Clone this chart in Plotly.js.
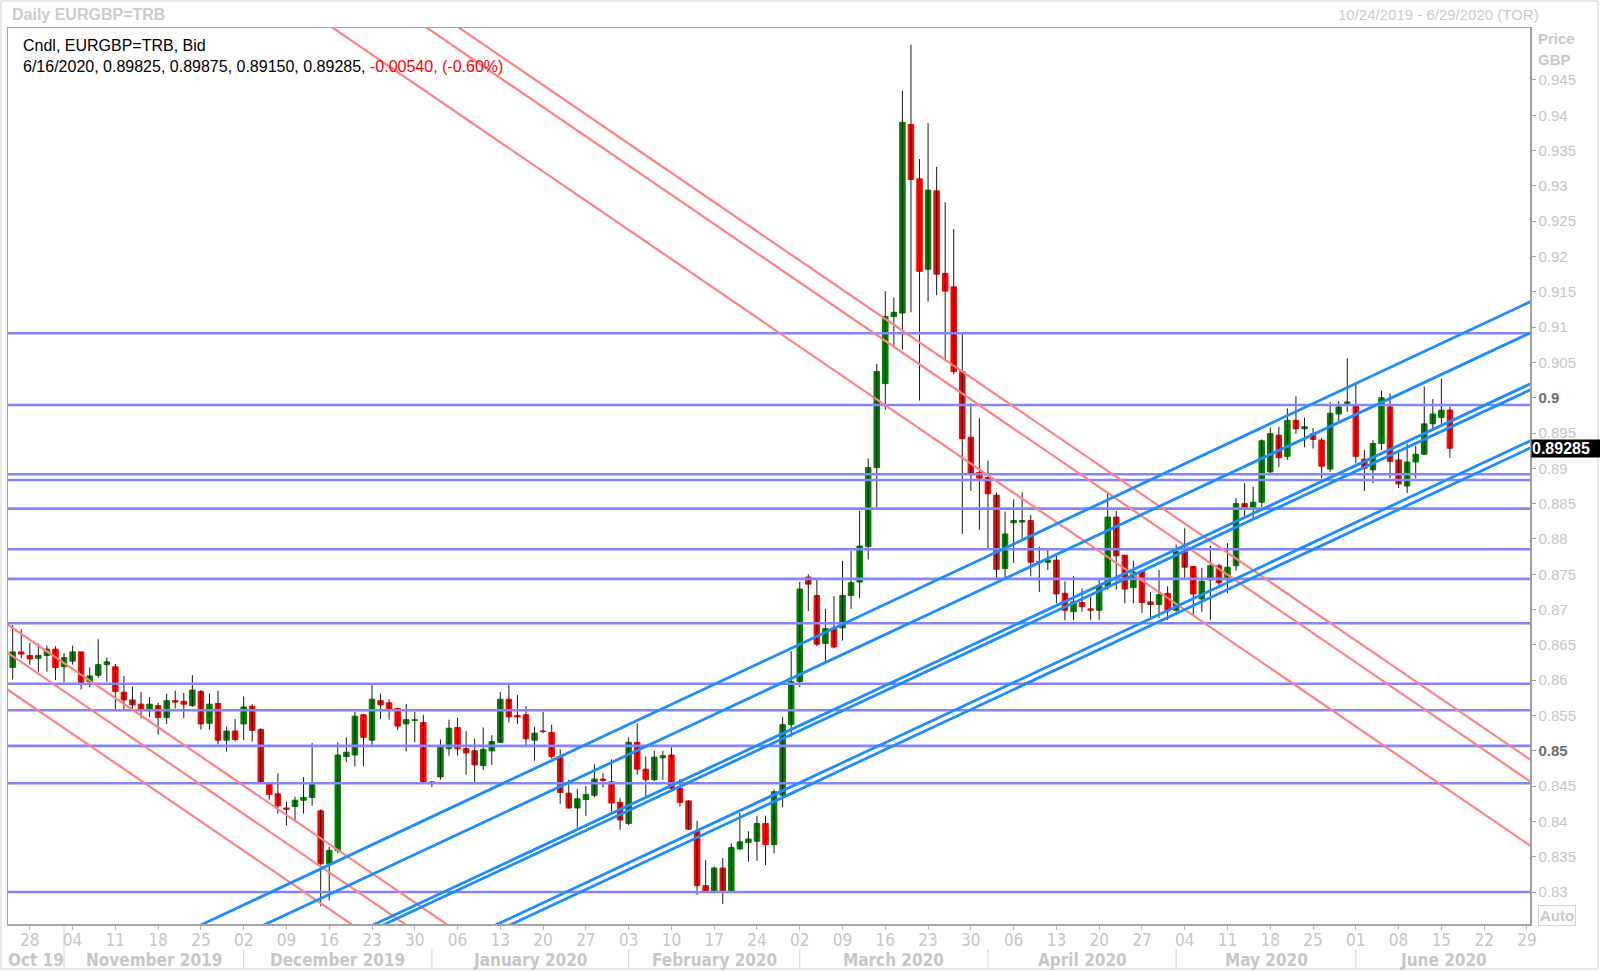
<!DOCTYPE html>
<html><head><meta charset="utf-8">
<script src="https://cdn.plot.ly/plotly-3.0.1.min.js"></script>
<style>html,body{margin:0;padding:0;background:#fff;}#chart{width:1600px;height:972px;}</style>
</head><body><div id="chart"></div>
<script>
// ---- DATA (EURGBP=TRB daily) ----
const dates = [
'2019-10-24','2019-10-25',
'2019-10-28','2019-10-29','2019-10-30','2019-10-31','2019-11-01',
'2019-11-04','2019-11-05','2019-11-06','2019-11-07','2019-11-08',
'2019-11-11','2019-11-12','2019-11-13','2019-11-14','2019-11-15',
'2019-11-18','2019-11-19','2019-11-20','2019-11-21','2019-11-22',
'2019-11-25','2019-11-26','2019-11-27','2019-11-28','2019-11-29',
'2019-12-02','2019-12-03','2019-12-04','2019-12-05','2019-12-06',
'2019-12-09','2019-12-10','2019-12-11','2019-12-12','2019-12-13',
'2019-12-16','2019-12-17','2019-12-18','2019-12-19','2019-12-20',
'2019-12-23','2019-12-24','2019-12-25','2019-12-26','2019-12-27',
'2019-12-30','2019-12-31','2020-01-01','2020-01-02','2020-01-03',
'2020-01-06','2020-01-07','2020-01-08','2020-01-09','2020-01-10',
'2020-01-13','2020-01-14','2020-01-15','2020-01-16','2020-01-17',
'2020-01-20','2020-01-21','2020-01-22','2020-01-23','2020-01-24',
'2020-01-27','2020-01-28','2020-01-29','2020-01-30','2020-01-31',
'2020-02-03','2020-02-04','2020-02-05','2020-02-06','2020-02-07',
'2020-02-10','2020-02-11','2020-02-12','2020-02-13','2020-02-14',
'2020-02-17','2020-02-18','2020-02-19','2020-02-20','2020-02-21',
'2020-02-24','2020-02-25','2020-02-26','2020-02-27','2020-02-28',
'2020-03-02','2020-03-03','2020-03-04','2020-03-05','2020-03-06',
'2020-03-09','2020-03-10','2020-03-11','2020-03-12','2020-03-13',
'2020-03-16','2020-03-17','2020-03-18','2020-03-19','2020-03-20',
'2020-03-23','2020-03-24','2020-03-25','2020-03-26','2020-03-27',
'2020-03-30','2020-03-31','2020-04-01','2020-04-02','2020-04-03',
'2020-04-06','2020-04-07','2020-04-08','2020-04-09','2020-04-10',
'2020-04-13','2020-04-14','2020-04-15','2020-04-16','2020-04-17',
'2020-04-20','2020-04-21','2020-04-22','2020-04-23','2020-04-24',
'2020-04-27','2020-04-28','2020-04-29','2020-04-30','2020-05-01',
'2020-05-04','2020-05-05','2020-05-06','2020-05-07','2020-05-08',
'2020-05-11','2020-05-12','2020-05-13','2020-05-14','2020-05-15',
'2020-05-18','2020-05-19','2020-05-20','2020-05-21','2020-05-22',
'2020-05-25','2020-05-26','2020-05-27','2020-05-28','2020-05-29',
'2020-06-01','2020-06-02','2020-06-03','2020-06-04','2020-06-05',
'2020-06-08','2020-06-09','2020-06-10','2020-06-11','2020-06-12',
'2020-06-15','2020-06-16'];

const open = [
0.8618,0.8640,
0.8635,0.8631,0.8635,0.8644,0.8619,
0.8627,0.8640,0.8598,0.8607,0.8622,
0.8619,0.8583,0.8572,0.8566,0.8559,
0.8564,0.8547,0.8571,0.8570,0.8564,
0.8584,0.8539,0.8567,0.8515,0.8528,
0.8538,0.8563,0.8530,0.8453,0.8439,
0.8419,0.8421,0.8430,0.8434,0.8415,
0.8340,0.8359,0.8492,0.8494,0.8551,
0.8515,0.8571,0.8568,0.8560,0.8538,
0.8543,0.8540,0.8454,0.8463,0.8503,
0.8533,0.8503,0.8500,0.8479,0.8500,
0.8512,0.8573,0.8550,0.8551,0.8515,
0.8528,0.8526,0.8491,0.8440,0.8419,
0.8431,0.8437,0.8460,0.8456,0.8427,
0.8397,0.8512,0.8474,0.8459,0.8490,
0.8494,0.8447,0.8429,0.8386,0.8309,
0.8301,0.8334,0.8301,0.8361,0.8370,
0.8372,0.8397,0.8367,0.8437,0.8537,
0.8598,0.8746,0.8720,0.8652,0.8674,
0.8674,0.8720,0.8739,0.8789,0.8901,
0.9020,0.9115,0.9120,0.9387,0.9310,
0.9182,0.9293,0.9176,0.9157,0.9037,
0.8944,0.8894,0.8887,0.8862,0.8758,
0.8823,0.8824,0.8826,0.8768,0.8767,
0.8770,0.8723,0.8697,0.8710,0.8701,
0.8699,0.8733,0.8831,0.8777,0.8731,
0.8754,0.8711,0.8707,0.8723,0.8699,
0.8782,0.8761,0.8715,0.8742,0.8762,
0.8742,0.8762,0.8850,0.8845,0.8852,
0.8895,0.8947,0.8917,0.8968,0.8956,
0.8949,0.8940,0.8899,0.8977,0.8992,
0.8988,0.8913,0.8898,0.8935,0.8987,
0.8912,0.8875,0.8909,0.8920,0.8963,
0.8972,0.89825];

const high = [
0.8678,0.8672,
0.8653,0.8652,0.8649,0.8648,0.8638,
0.8649,0.8640,0.8618,0.8658,0.8632,
0.8623,0.8606,0.8591,0.8583,0.8576,
0.8568,0.8581,0.8585,0.8582,0.8607,
0.8586,0.8581,0.8585,0.8534,0.8545,
0.8577,0.8566,0.8532,0.8456,0.8468,
0.8428,0.8435,0.8463,0.8511,0.8417,
0.8364,0.8512,0.8519,0.8555,0.8552,
0.8593,0.8581,0.8573,0.8561,0.8566,
0.8555,0.8551,0.8457,0.8516,0.8544,
0.8547,0.8528,0.8517,0.8533,0.8522,
0.8583,0.8593,0.8579,0.8563,0.8534,
0.8555,0.8537,0.8502,0.8459,0.8446,
0.8450,0.8481,0.8468,0.8488,0.8433,
0.8519,0.8539,0.8492,0.8500,0.8500,
0.8505,0.8460,0.8430,0.8401,0.8345,
0.8336,0.8348,0.8369,0.8412,0.8386,
0.8408,0.8408,0.8445,0.8548,0.8641,
0.8739,0.8750,0.8744,0.8701,0.8719,
0.8769,0.8783,0.8840,0.8914,0.9048,
0.9151,0.9142,0.9435,0.9500,0.9338,
0.9389,0.9327,0.9277,0.9239,0.9093,
0.8992,0.8971,0.8911,0.8866,0.8839,
0.8856,0.8866,0.8834,0.8789,0.8784,
0.8777,0.8740,0.8747,0.8730,0.8718,
0.8742,0.8865,0.8840,0.8777,0.8769,
0.8754,0.8725,0.8756,0.8733,0.8792,
0.8815,0.8761,0.8759,0.8790,0.8765,
0.8794,0.8858,0.8879,0.8874,0.8941,
0.8958,0.8959,0.8985,0.9002,0.8972,
0.8957,0.8943,0.8994,0.8995,0.9056,
0.9021,0.8926,0.8940,0.9010,0.9006,
0.8926,0.8935,0.8932,0.9016,0.8998,
0.9027,0.89875];

const low = [
0.8601,0.8631,
0.8622,0.8612,0.8612,0.8600,0.8597,
0.8622,0.8587,0.8590,0.8603,0.8598,
0.8559,0.8559,0.8558,0.8546,0.8548,
0.8523,0.8538,0.8560,0.8546,0.8562,
0.8530,0.8530,0.8509,0.8499,0.8513,
0.8515,0.8513,0.8453,0.8431,0.8411,
0.8394,0.8402,0.8411,0.8422,0.8280,
0.8288,0.8355,0.8484,0.8478,0.8478,
0.8508,0.8545,0.8544,0.8529,0.8499,
0.8512,0.8454,0.8449,0.8459,0.8493,
0.8493,0.8466,0.8455,0.8473,0.8480,
0.8511,0.8540,0.8538,0.8508,0.8486,
0.8525,0.8489,0.8425,0.8418,0.8391,
0.8408,0.8434,0.8448,0.8414,0.8388,
0.8395,0.8466,0.8435,0.8457,0.8459,
0.8446,0.8421,0.8388,0.8296,0.8300,
0.8298,0.8283,0.8299,0.8360,0.8343,
0.8344,0.8338,0.8355,0.8420,0.8520,
0.8590,0.8698,0.8648,0.8625,0.8645,
0.8656,0.8701,0.8716,0.8771,0.8845,
0.8983,0.9071,0.9068,0.9121,0.8996,
0.9136,0.9145,0.9054,0.9033,0.8807,
0.8868,0.8813,0.8786,0.8742,0.8744,
0.8766,0.8799,0.8747,0.8725,0.8756,
0.8709,0.8685,0.8685,0.8697,0.8685,
0.8685,0.8728,0.8728,0.8709,0.8709,
0.8695,0.8688,0.8688,0.8685,0.8697,
0.8742,0.8692,0.8697,0.8685,0.8730,
0.8723,0.8755,0.8830,0.8830,0.8845,
0.8890,0.8902,0.8912,0.8949,0.8930,
0.8928,0.8886,0.8895,0.8966,0.8980,
0.8907,0.8868,0.8879,0.8926,0.8886,
0.8872,0.8865,0.8886,0.8919,0.8954,
0.8963,0.89150];

const close = [
0.8640,0.8637,
0.8630,0.8635,0.8644,0.8618,0.8632,
0.8640,0.8597,0.8606,0.8622,0.8626,
0.8584,0.8572,0.8565,0.8559,0.8566,
0.8547,0.8571,0.8569,0.8566,0.8586,
0.8538,0.8566,0.8515,0.8528,0.8516,
0.8562,0.8529,0.8454,0.8438,0.8422,
0.8417,0.8430,0.8434,0.8452,0.8340,
0.8359,0.8494,0.8498,0.8549,0.8519,
0.8573,0.8565,0.8560,0.8535,0.8544,
0.8544,0.8455,0.8456,0.8506,0.8532,
0.8503,0.8497,0.8480,0.8502,0.8513,
0.8573,0.8548,0.8548,0.8517,0.8525,
0.8527,0.8492,0.8441,0.8419,0.8432,
0.8438,0.8460,0.8458,0.8426,0.8402,
0.8512,0.8474,0.8459,0.8491,0.8493,
0.8447,0.8427,0.8389,0.8309,0.8301,
0.8334,0.8301,0.8363,0.8371,0.8375,
0.8397,0.8367,0.8442,0.8537,0.8598,
0.8729,0.8736,0.8651,0.8673,0.8647,
0.8720,0.8738,0.8790,0.8901,0.9037,
0.9115,0.9121,0.9390,0.9309,0.9179,
0.9294,0.9175,0.9151,0.9037,0.8942,
0.8893,0.8886,0.8864,0.8757,0.8807,
0.8826,0.8826,0.8767,0.8768,0.8770,
0.8722,0.8699,0.8711,0.8704,0.8699,
0.8733,0.8831,0.8776,0.8729,0.8753,
0.8710,0.8707,0.8721,0.8699,0.8782,
0.8760,0.8722,0.8740,0.8762,0.8738,
0.8760,0.8850,0.8845,0.8852,0.8939,
0.8949,0.8915,0.8968,0.8956,0.8959,
0.8941,0.8903,0.8978,0.8987,0.8994,
0.8917,0.8900,0.8935,0.9000,0.8910,
0.8878,0.8909,0.8920,0.8963,0.8977,
0.89825,0.89285];

// horizontal support / resistance levels
const hLevels = [0.90913,0.89897,0.88916,0.88835,0.88430,0.87855,0.87434,0.86807,0.85950,0.85575,0.85070,0.84540,0.83000];

// rising (blue) trend lines: start date/price, end date/price
const blueD0 = ['2019-11-25 12:00','2019-12-04 12:00','2019-12-23 12:00','2019-12-24 12:00','2020-01-10 12:00','2020-01-14 12:00'];
const blueP0 = [0.82533,0.82512,0.82526,0.82516,0.82507,0.82526];
const blueD1 = ['2020-07-01 12:00','2020-07-01 12:00','2020-07-01 12:00','2020-07-01 12:00','2020-07-01 12:00','2020-07-01 12:00'];
const blueP1 = [0.91450,0.91009,0.90287,0.90202,0.89481,0.89380];

// falling (red) trend lines
const redD0 = ['2019-10-23 12:00','2019-10-23 12:00','2019-10-23 12:00','2019-12-05 12:00','2019-12-05 12:00','2019-12-05 12:00'];
const redP0 = [0.86821,0.86422,0.85901,0.95852,0.96763,0.97076];
const redD1 = ['2020-01-16 12:00','2020-01-16 12:00','2020-01-16 12:00','2020-07-01 12:00','2020-07-01 12:00','2020-07-01 12:00'];
const redP1 = [0.81777,0.81376,0.80856,0.83523,0.84432,0.84741];

// axis labels
const yTickVals = [0.83,0.835,0.84,0.845,0.85,0.855,0.86,0.865,0.87,0.875,0.88,0.885,0.89,0.895,0.9,0.905,0.91,0.915,0.92,0.925,0.93,0.935,0.94,0.945];
const yTickText = ['0.83','0.835','0.84','0.845','0.85','0.855','0.86','0.865','0.87','0.875','0.88','0.885','0.89','0.895','0.9','0.905','0.91','0.915','0.92','0.925','0.93','0.935','0.94','0.945'];
const yBold = ['0.9','0.85'];
const monthNames = ['Oct 19','November 2019','December 2019','January 2020','February 2020','March 2020','April 2020','May 2020','June 2020'];
const monthLabelX = ['2019-10-29 05:30','2019-11-18 00:00','2019-12-17 12:00','2020-01-17 00:00','2020-02-17 12:00','2020-03-17 12:00','2020-04-16 12:00','2020-05-18 00:00','2020-06-15 16:48'];
const monthSeps = ['2019-11-01','2019-12-02','2020-01-01','2020-02-03','2020-03-02','2020-04-01','2020-05-01','2020-06-01'];

// ---- BUILD ----
const L=8, R=1530, T=28, B=924;
const px = x => (x-L)/(R-L);
const py = y => (B-y)/(B-T);
const mid = d => d + ' 12:00';

const xs = dates.map(mid);
const wx=[], wy=[];
for (let i=0;i<dates.length;i++){ wx.push(xs[i],xs[i],null); wy.push(low[i],high[i],null); }
const base = open.map((o,i)=>Math.min(o,close[i]));
const bodyH = open.map((o,i)=>Math.abs(close[i]-o));
const cols = open.map((o,i)=> close[i]>=o ? '#008000' : '#ff0000');

const traces = [
 {type:'scatter', mode:'lines', x:wx, y:wy, line:{color:'#1a1a1a', width:1}, hoverinfo:'skip', connectgaps:false},
 {type:'bar', x:xs, y:bodyH, base:base, width:0.64*86400000,
  marker:{color:cols, line:{color:cols, width:1}}, hoverinfo:'skip'}
];

const shapes = [];
hLevels.forEach(p=>shapes.push({type:'line', xref:'x', yref:'y', x0:'2019-10-23 12:00', x1:'2020-07-01 12:00', y0:p, y1:p, line:{color:'#8484ff', width:2.6}}));
redD0.forEach((d,i)=>shapes.push({type:'line', xref:'x', yref:'y', x0:d, y0:redP0[i], x1:redD1[i], y1:redP1[i], line:{color:'#ff8282', width:2.2}}));
blueD0.forEach((d,i)=>shapes.push({type:'line', xref:'x', yref:'y', x0:d, y0:blueP0[i], x1:blueD1[i], y1:blueP1[i], line:{color:'#1e8cff', width:2.8}}));
monthSeps.forEach((d,i)=>shapes.push({type:'line', xref:'x', yref:'paper', x0:mid(d), x1:mid(d), y0:py(i===0?926:949), y1:py(969), line:{color:'#d4d4d4', width:1}}));
// outer frame of the chart window
shapes.push({type:'rect', xref:'paper', yref:'paper', x0:px(1), x1:px(1598), y0:py(969), y1:py(1), line:{color:'#d0d0d0', width:1}, fillcolor:'rgba(0,0,0,0)', layer:'below'});

const grey='#c6c6c6';
const FN='Liberation Sans Narrow, DejaVu Sans Condensed, Arial Narrow, sans-serif';
const FS='Liberation Sans, Arial, sans-serif';
const n = close.length-1;
const chg = close[n]-close[n-1];
const pct = chg/close[n-1]*100;
const dLast = new Date(dates[n]+'T00:00:00');
const dStr = (dLast.getMonth()+1)+'/'+dLast.getDate()+'/'+dLast.getFullYear();
const f5 = v => v.toFixed(5);

const ann = [
 {xref:'paper',yref:'paper',x:px(10),y:py(15),xanchor:'left',yanchor:'middle',showarrow:false,text:'<b>Daily EURGBP=TRB</b>',font:{family:FS,size:16,color:'#cccccc'}},
 {xref:'paper',yref:'paper',x:px(1541),y:py(15),xanchor:'right',yanchor:'middle',showarrow:false,text:'10/24/2019 - 6/29/2020 (TOR)',font:{family:FS,size:15,color:'#cccccc'}},
 {xref:'paper',yref:'paper',x:px(21),y:py(46),xanchor:'left',yanchor:'middle',showarrow:false,text:'Cndl, EURGBP=TRB, Bid',font:{family:FS,size:16,color:'#000'}},
 {xref:'paper',yref:'paper',x:px(21),y:py(67),xanchor:'left',yanchor:'middle',showarrow:false,
  text: dStr+', '+f5(open[n])+', '+f5(high[n])+', '+f5(low[n])+', '+f5(close[n])+', <span style="color:#ff0000">'+f5(chg)+', ('+pct.toFixed(2)+'%)</span>',
  font:{family:FS,size:16,color:'#000'}},
 {xref:'paper',yref:'paper',x:px(1536),y:py(38),xanchor:'left',yanchor:'middle',showarrow:false,text:'<b>Price</b>',font:{family:FS,size:15,color:'#c8c8c8'}},
 {xref:'paper',yref:'paper',x:px(1536),y:py(59),xanchor:'left',yanchor:'middle',showarrow:false,text:'<b>GBP</b>',font:{family:FS,size:15,color:'#c8c8c8'}},
 {xref:'paper',yref:'y',x:1,y:close[n],xanchor:'left',yanchor:'middle',showarrow:false,text:'<b>'+f5(close[n])+'</b>',
  bgcolor:'#000',font:{family:FS,size:16,color:'#fff'},borderpad:0,width:68,align:'left',xshift:1},
 {xref:'paper',yref:'paper',x:px(1557),y:py(915),xanchor:'center',yanchor:'middle',showarrow:false,text:'<b>Auto</b>',
  font:{family:FS,size:15,color:'#c8c8c8'},bordercolor:'#d4d4d4',borderwidth:1,borderpad:1}
];
monthNames.forEach((m,i)=>ann.push({xref:'x',yref:'paper',x:monthLabelX[i],y:py(960),xanchor:'center',yanchor:'middle',showarrow:false,
  text:'<b>'+m+'</b>',font:{family:FN,size:17,color:grey}}));

const yText = yTickText.map(t => yBold.includes(t) ? '<span style="color:#6e6e6e"><b>'+t+'</b></span>' : t);

const layout = {
 width:1600, height:972,
 margin:{l:L, r:1600-R, t:T, b:972-B, pad:0},
 paper_bgcolor:'#ffffff', plot_bgcolor:'#ffffff',
 showlegend:false, bargap:0, hovermode:false,
 xaxis:{type:'date', range:['2019-10-23 22:50','2020-06-29 20:38'],
   rangebreaks:[{bounds:['sat','mon']}],
   tick0:'2019-10-28 12:00', dtick:7*86400000, tickformat:'%d',
   ticks:'outside', ticklen:4, tickcolor:'#b4b4b4', tickwidth:1, ticklabelstandoff:-4,
   showgrid:false, zeroline:false, showline:true, mirror:true, linecolor:'#a6a6a6', linewidth:1.5,
   tickfont:{family:FN,size:17,color:grey}, automargin:false, fixedrange:true},
 yaxis:{side:'right', range:[0.82547,0.95236], tickmode:'array', tickvals:yTickVals, ticktext:yText,
   ticks:'outside', ticklen:4, tickcolor:'#a0a0a0', tickwidth:1,
   showgrid:false, zeroline:false, showline:true, mirror:true, linecolor:'#a0a0a0', linewidth:1.5,
   tickfont:{family:FS,size:15,color:grey}, automargin:false, fixedrange:true},
 shapes:shapes, annotations:ann
};

Plotly.newPlot('chart', traces, layout, {displayModeBar:false, staticPlot:true});
</script>
</body></html>
